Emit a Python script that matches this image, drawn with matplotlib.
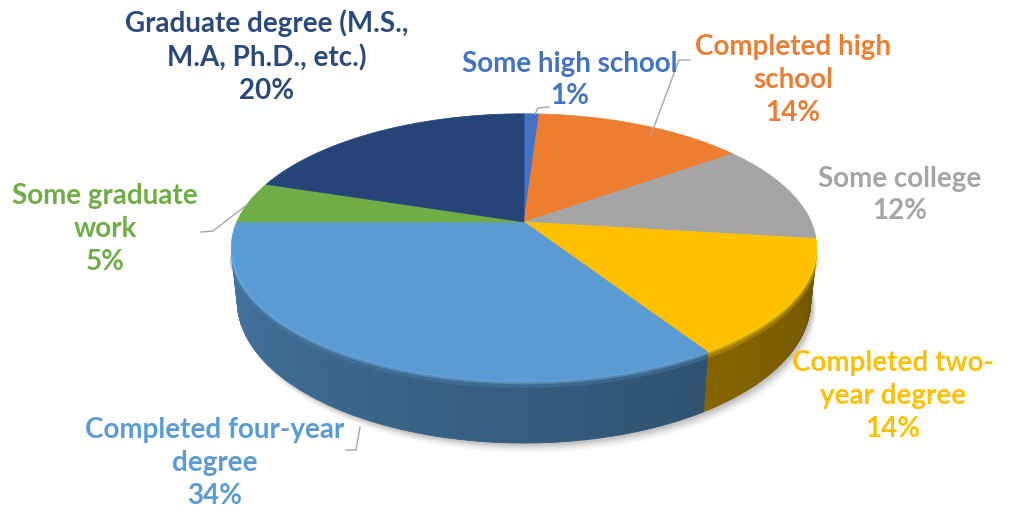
import numpy as np
import matplotlib
matplotlib.use("Agg")
import matplotlib.pyplot as plt
from matplotlib.patches import Polygon
from matplotlib import colors as mcolors

# Share of respondents by highest level of education (clockwise from 12 o'clock)
categories = [
    "Some high school",
    "Completed high\nschool",
    "Some college",
    "Completed two-\nyear degree",
    "Completed four-year\ndegree",
    "Some graduate\nwork",
    "Graduate degree (M.S.,\nM.A, Ph.D., etc.)",
]
shares = [1, 14, 12, 14, 34, 5, 20]
slice_colors = ["#4472C4", "#ED7D31", "#A5A5A5", "#FFC000", "#5B9BD5", "#70AD47", "#264478"]
label_colors = ["#4472C4", "#ED7D31", "#A5A5A5", "#FFC000", "#5B9BD5", "#70AD47", "#2B4A7C"]

# label anchor (centre of text block) and leader line vertices, in pixels
label_pos = [(570, 80), (793, 80), (900, 195), (893, 396), (215, 463), (105, 229), (267, 57)]
leaders = [
    [(535, 114), (538, 108), (549, 107)],
    [(651, 135), (679, 60), (690, 60)],
    None,
    None,
    [(360, 427), (356, 450), (346, 450)],
    [(248, 204), (213, 231), (201, 232)],
    None,
]

W, H = 1010, 513
fig = plt.figure(figsize=(W / 100, H / 100), dpi=100)
ax = fig.add_axes([0, 0, 1, 1])
ax.set_xlim(0, W)
ax.set_ylim(H, 0)
ax.axis("off")

# simple perspective camera looking down on a disc of unit radius
tilt = np.radians(26.7)
dist = 4.64
scale = 1333.0
cx, cy = 524.0, 222.0
thick = 0.21
S, C = np.sin(tilt), np.cos(tilt)


def project(theta, z=0.0):
    x = np.sin(theta)
    y = np.cos(theta)
    depth = y * C + dist - z * S
    up = y * S + z * C
    return cx + scale * x / depth, cy - scale * up / depth


def shade(color, f):
    r, g, b = mcolors.to_rgb(color)
    return (r * f, g * f, b * f)


fracs = np.array(shares, dtype=float) / np.sum(shares)
edges = np.concatenate([[0.0], np.cumsum(fracs)]) * 2 * np.pi

# visible part of the rim
lim = np.arccos(-1.0 / (dist * C))
vis_lo, vis_hi = lim, 2 * np.pi - lim

# soft shadow under the disc
for k, a in zip(range(8), np.linspace(0.05, 0.012, 8)):
    th = np.linspace(vis_lo - 0.2, vis_hi + 0.2, 200)
    bx, by = project(th, -thick)
    ox, oy = project(th[::-1], -thick * 0.4)
    xs = np.concatenate([bx + 2 + k * 0.6, ox])
    ys = np.concatenate([by + 2 + k * 1.2, oy])
    ax.add_patch(Polygon(np.column_stack([xs, ys]), closed=True, facecolor="black",
                         edgecolor="none", alpha=a, zorder=1))

# rim (side wall) of each slice
for i, col in enumerate(slice_colors):
    a0 = max(edges[i], vis_lo)
    a1 = min(edges[i + 1], vis_hi)
    if a1 <= a0:
        continue
    n = max(2, int((a1 - a0) / np.radians(1.5)) + 1)
    th = np.linspace(a0, a1, n + 1)
    for t0, t1 in zip(th[:-1], th[1:]):
        tm = 0.5 * (t0 + t1)
        u = (tm - vis_lo) / (vis_hi - vis_lo)
        f = 0.44 + 0.30 * u
        x0, y0 = project(t0)
        x1, y1 = project(t1)
        x2, y2 = project(t1, -thick)
        x3, y3 = project(t0, -thick)
        c = shade(col, f)
        ax.add_patch(Polygon([(x0, y0), (x1, y1), (x2, y2), (x3, y3)], closed=True,
                             facecolor=c, edgecolor=c, linewidth=0.6, zorder=2))

# top faces
for i, col in enumerate(slice_colors):
    th = np.linspace(edges[i], edges[i + 1], max(3, int(fracs[i] * 400)))
    px, py = project(th)
    pts = np.column_stack([np.concatenate([[cx], px]), np.concatenate([[cy], py])])
    ax.add_patch(Polygon(pts, closed=True, facecolor=col, edgecolor=col,
                         linewidth=0.5, zorder=3))

# bevel highlight along the front edge of the top face
for i, col in enumerate(slice_colors):
    a0 = max(edges[i], vis_lo)
    a1 = min(edges[i + 1], vis_hi)
    if a1 <= a0:
        continue
    th = np.linspace(a0, a1, 120)
    px, py = project(th)
    r, g, b = mcolors.to_rgb(col)
    hl = (min(1, r * 1.2 + 0.06), min(1, g * 1.12 + 0.06), min(1, b * 1.08 + 0.04))
    ax.plot(px, py + 1.0, color=hl, linewidth=2.0, alpha=0.45, zorder=4,
            solid_capstyle="butt")
    ax.plot(px, py + 4, color=shade(col, 0.8), linewidth=3.0, alpha=0.45, zorder=2.5,
            solid_capstyle="butt")

# data labels
for i in range(len(categories)):
    text = f"{categories[i]}\n{shares[i]}%"
    ax.text(label_pos[i][0], label_pos[i][1], text, color=label_colors[i],
            fontsize=20, fontweight="bold", family="Lato", ha="center",
            va="center", linespacing=1.33, zorder=6)
    if leaders[i] is not None:
        lx, ly = zip(*leaders[i])
        ax.plot(lx, ly, color="#A6A6A6", linewidth=1.0, zorder=5)

fig.savefig("out.png", dpi=100, facecolor="white")
